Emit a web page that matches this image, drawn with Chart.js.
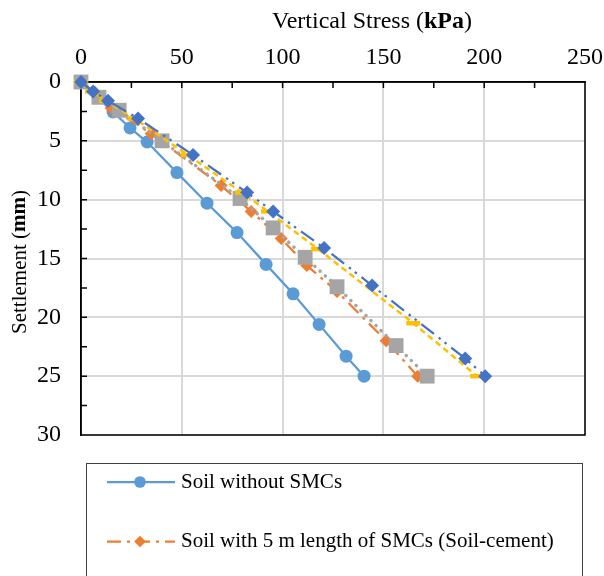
<!DOCTYPE html>
<html>
<head>
<meta charset="utf-8">
<script src="https://cdn.jsdelivr.net/npm/chart.js@4.4.1/dist/chart.umd.min.js"></script>
<style>
html,body{margin:0;padding:0;background:#fff;}
#wrap{width:604px;height:576px;position:relative;}
</style>
</head>
<body>
<div id="wrap"><canvas id="c" width="604" height="576"></canvas></div>
<script>
// ---- data (stress in kPa, settlement in mm) ----
const seriesNames = [
  "Soil without SMCs",
  "Soil with 5 m length of SMCs (Soil-cement)",
  "Soil with SMCs (series 3)",
  "Soil with SMCs (series 4)",
  "Soil with SMCs (series 5)"
];
const stressNoSMC   = [0, 15.9, 24.3, 32.8, 47.6, 62.5, 77.4, 91.8, 105.2, 118.1, 131.5, 140.4];
const settleNoSMC   = [0, 2.55, 3.9, 5.1, 7.7, 10.3, 12.8, 15.5, 18.0, 20.6, 23.3, 25.0];
const stressSC5     = [0, 7.0, 14.9, 34.8, 69.5, 84.4, 99.3, 112.0, 127.0, 151.4, 167.0];
const settleSC5     = [0, 0.9, 2.2, 4.4, 8.8, 11.0, 13.3, 15.6, 17.8, 22.0, 25.0];
const stressS3      = [0, 8.9, 18.9, 40.2, 78.9, 95.3, 111.2, 127.0, 156.3, 171.7];
const settleS3      = [0, 1.3, 2.4, 5.0, 9.9, 12.4, 14.9, 17.4, 22.4, 25.0];
const stressS4      = [0, 5.5, 12.5, 26.5, 53.0, 79.9, 92.8, 117.6, 164.8, 196.5];
const settleS4      = [0, 0.8, 1.6, 3.1, 6.2, 9.4, 11.0, 14.2, 20.5, 25.0];
const stressS5      = [0, 6.0, 13.4, 28.3, 55.6, 82.4, 95.3, 120.6, 144.4, 190.6, 200.5];
const settleS5      = [0, 0.8, 1.6, 3.1, 6.2, 9.4, 11.0, 14.1, 17.3, 23.5, 25.0];
const xTicks = [0, 50, 100, 150, 200, 250];
const yTicks = [0, 5, 10, 15, 20, 25, 30];

function pts(xs, ys){ return xs.map((x,i)=>({x:x, y:ys[i]})); }

const FONT = "'Liberation Serif','Times New Roman',serif";

const datasets = [
  {label:seriesNames[0], data:pts(stressNoSMC, settleNoSMC), borderColor:'#5B9BD5', backgroundColor:'#5B9BD5',
   borderWidth:2.25, pointStyle:'circle', pointRadius:6.5, pointBorderWidth:0, borderDash:[]},
  {label:seriesNames[1], data:pts(stressSC5, settleSC5), borderColor:'#ED7D31', backgroundColor:'#ED7D31',
   borderWidth:2.25, pointStyle:'rectRot', pointRadius:6.5, pointBorderWidth:0, borderDash:[14,6,3,6]},
  {label:seriesNames[2], data:pts(stressS3, settleS3), borderColor:'#A5A5A5', backgroundColor:'#A5A5A5',
   borderWidth:3.5, pointStyle:'rect', pointRadius:10.5, pointBorderWidth:0, borderDash:[0.1,7], borderCapStyle:'round'},
  {label:seriesNames[3], data:pts(stressS4, settleS4), borderColor:'#FFC000', backgroundColor:'#FFC000',
   borderWidth:2.5, pointStyle:'line', pointRadius:7, pointBorderWidth:4.5, borderDash:[6,4]},
  {label:seriesNames[4], data:pts(stressS5, settleS5), borderColor:'#4472C4', backgroundColor:'#4472C4',
   borderWidth:2.25, pointStyle:'rectRot', pointRadius:7, pointBorderWidth:0, borderDash:[16,6,2.5,5,2.5,6]}
];
// later series are painted over earlier ones (as in the original)
datasets.forEach((d,i)=>{ d.showLine=true; d.fill=false; d.tension=0; d.pointHoverRadius=d.pointRadius; d.clip=false; d.order=datasets.length-1-i; });

const XTITLE_SIZE = 24, YTITLE_SIZE = 21, TICK_SIZE = 24, LEGEND_SIZE = 21;

function mixedTitle(ctx, parts, size, cx, cy){
  const widths = parts.map(p=>{ ctx.font=(p[1]?'bold ':'')+size+'px '+FONT; return ctx.measureText(p[0]).width; });
  let sx = cx - widths.reduce((a,b)=>a+b,0)/2;
  parts.forEach((p,i)=>{ ctx.font=(p[1]?'bold ':'')+size+'px '+FONT; ctx.fillText(p[0], sx, cy); sx+=widths[i]; });
}

const decor = {
  id:'decor',
  beforeDatasetsDraw(chart){
    const {ctx, chartArea:a, scales:{x,y}} = chart;
    ctx.save();
    ctx.strokeStyle='#000'; ctx.lineWidth=1.5;
    ctx.beginPath();
    for(let v=25; v<250; v+=25){ const px=x.getPixelForValue(v); ctx.moveTo(px,a.top); ctx.lineTo(px,a.top+6); }
    for(let v=2.5; v<30; v+=2.5){ const py=y.getPixelForValue(v); ctx.moveTo(a.left,py); ctx.lineTo(a.left+6,py); }
    ctx.stroke();
    ctx.strokeRect(a.left, a.top, a.right-a.left, a.bottom-a.top);
    ctx.restore();
  },
  afterDraw(chart){
    const {ctx} = chart;
    ctx.save();
    ctx.fillStyle='#000';
    ctx.textBaseline='middle';
    ctx.textAlign='left';
    mixedTitle(ctx, [['Vertical Stress (',0],['kPa',1],[')',0]], XTITLE_SIZE, 372, 22);
    ctx.translate(20, 262); ctx.rotate(-Math.PI/2);
    mixedTitle(ctx, [['Settlement (',0],['mm',1],[')',0]], YTITLE_SIZE, 0, 0);
    ctx.restore();

    // legend box
    ctx.save();
    ctx.strokeStyle='#404040'; ctx.lineWidth=1;
    ctx.strokeRect(86.5, 463.5, 496, 140);
    chart.data.datasets.forEach((d,i)=>{
      const cy = 482 + i*59.5;
      ctx.save();
      ctx.strokeStyle=d.borderColor; ctx.lineWidth=d.borderWidth;
      ctx.setLineDash(d.borderDash||[]); ctx.lineCap=d.borderCapStyle||'butt';
      ctx.beginPath(); ctx.moveTo(107,cy); ctx.lineTo(175,cy); ctx.stroke();
      ctx.restore();
      ctx.save();
      ctx.fillStyle=d.backgroundColor; ctx.strokeStyle=d.borderColor;
      ctx.lineWidth=d.pointBorderWidth; ctx.setLineDash([]);
      Chart.helpers.drawPoint(ctx, {pointStyle:d.pointStyle, radius:d.pointRadius*0.9, rotation:0, borderWidth:d.pointBorderWidth}, 140, cy);
      ctx.restore();
      ctx.fillStyle='#000'; ctx.font=LEGEND_SIZE+'px '+FONT; ctx.textAlign='left'; ctx.textBaseline='middle';
      ctx.fillText(d.label, 181, cy);
    });
    ctx.restore();
  }
};

new Chart(document.getElementById('c'), {
  type:'scatter',
  data:{datasets},
  options:{
    responsive:false, animation:false, devicePixelRatio:1,
    layout:{padding:{left:0, top:0, right:19, bottom:141}},
    plugins:{legend:{display:false}, tooltip:{enabled:false}},
    scales:{
      x:{type:'linear', position:'top', min:0, max:250,
         afterBuildTicks(s){ s.ticks = xTicks.map(v=>({value:v})); },
         afterFit(s){ s.height=82; s.paddingLeft=0; s.paddingRight=0; },
         ticks:{font:{family:FONT, size:TICK_SIZE}, color:'#000', padding:10, maxRotation:0},
         grid:{color:'#D9D9D9', lineWidth:2, drawTicks:false},
         border:{display:true, color:'#000', width:1.5}},
      y:{type:'linear', reverse:true, min:0, max:30,
         afterBuildTicks(s){ s.ticks = yTicks.map(v=>({value:v})); },
         afterFit(s){ s.width=81; s.paddingTop=0; s.paddingBottom=0; },
         ticks:{font:{family:FONT, size:TICK_SIZE}, color:'#000', padding:20},
         grid:{color:'#D9D9D9', lineWidth:2, drawTicks:false},
         border:{display:true, color:'#000', width:1.5}}
    }
  },
  plugins:[decor]
});
</script>
</body>
</html>
